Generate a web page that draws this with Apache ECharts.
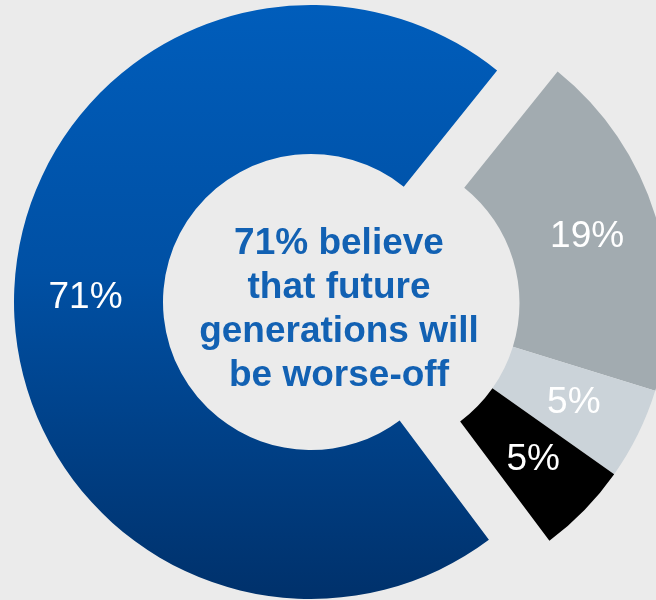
<!DOCTYPE html>
<html>
<head>
<meta charset="utf-8">
<script src="https://cdn.jsdelivr.net/npm/echarts@6/dist/echarts.min.js"></script>
<style>
html,body{margin:0;padding:0;background:#ebebeb;}
#chart{width:656px;height:600px;}
</style>
</head>
<body>
<div id="chart"></div>
<script>
// Data
var categories = ['Worse-off', 'Better-off', 'About the same', "Don't know"];
var values = [71, 19, 5, 5];
var centerLines = ['71% believe', 'that future', 'generations will', 'be worse-off'];

var colors = [
  new echarts.graphic.LinearGradient(0, 0, 0, 1, [
    {offset: 0, color: '#005dbb'},
    {offset: 0.45, color: '#0050a4'},
    {offset: 1, color: '#00316b'}
  ]),
  '#a2abb0',
  '#cbd3d9',
  '#000000'
];

var FONT = '"Liberation Sans", Arial, sans-serif';
var hidden = {
  itemStyle: {color: 'rgba(0,0,0,0)'},
  label: {show: false},
  emphasis: {disabled: true}
};

function buildData(showIdx) {
  return categories.map(function (name, i) {
    var d = {name: name, value: values[i]};
    if (showIdx.indexOf(i) < 0) {
      return Object.assign(d, hidden);
    }
    d.itemStyle = {color: colors[i]};
    return d;
  });
}

var common = {
  type: 'pie',
  radius: [148, 297],
  startAngle: 306.8,
  clockwise: true,
  avoidLabelOverlap: false,
  silent: true,
  animation: false,
  label: {
    show: true,
    position: 'inside',
    formatter: '{c}%',
    color: '#ffffff',
    fontFamily: FONT,
    fontSize: 37,
    fontWeight: 'normal',
    padding: [5, 0, 0, 0]
  },
  labelLine: {show: false},
  itemStyle: {borderWidth: 0}
};

var chart = echarts.init(document.getElementById('chart'), null, {renderer: 'canvas'});
chart.setOption({
  backgroundColor: '#ebebeb',
  animation: false,
  series: [
    Object.assign({}, common, {center: [311, 302], data: buildData([0])}),
    Object.assign({}, common, {center: [371.5, 303], data: buildData([1, 2, 3])})
  ],
  graphic: [{
    type: 'text',
    x: 339,
    y: 310,
    style: {
      text: centerLines.join('\n'),
      textAlign: 'center',
      textVerticalAlign: 'middle',
      align: 'center',
      verticalAlign: 'middle',
      font: 'bold 37px ' + FONT,
      lineHeight: 44,
      fill: '#1261b3'
    }
  }]
});
</script>
</body>
</html>
